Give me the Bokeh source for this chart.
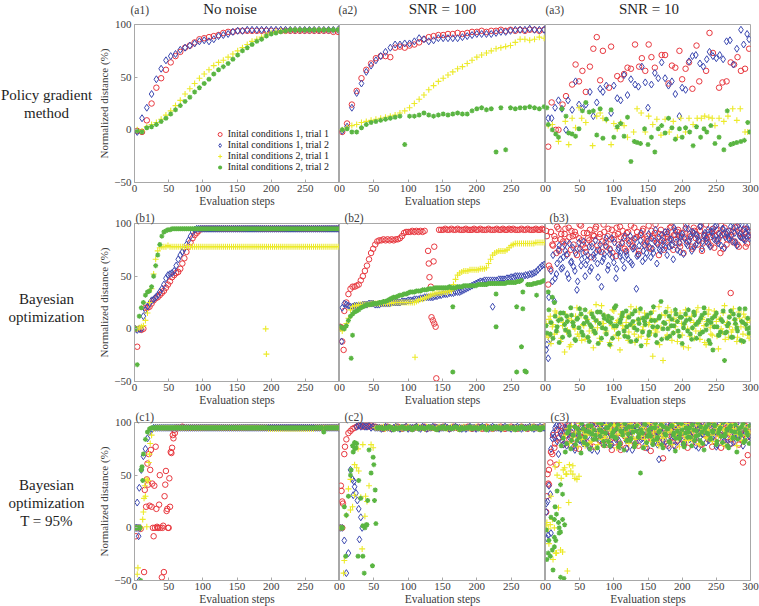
import numpy as np
from bokeh.plotting import figure
from bokeh.layouts import row, column
from bokeh.models import Range1d, FixedTicker
from bokeh.core.properties import value
from bokeh.embed import file_html
from bokeh.resources import INLINE

# ---------------- texts ----------------
legend_names = ["Inital conditions 1, trial 1", "Inital conditions 1, trial 2",
                "Inital conditions 2, trial 1", "Inital conditions 2, trial 2"]
col_titles = ["No noise", "SNR = 100", "SNR = 10"]
row_labels = [["Policy gradient", "method"],
              ["Bayesian", "optimization"],
              ["Bayesian", "optimization", "T = 95%"]]
panel_tags = [["(a1)", "(a2)", "(a3)"], ["(b1)", "(b2)", "(b3)"], ["(c1)", "(c2)", "(c3)"]]
x_ticks = [0, 50, 100, 150, 200, 250, 300]
y_ticks = [-50, 0, 50, 100]
x_label = "Evaluation steps"
y_label = "Normalized distance (%)"

# evaluation steps at which values were read
steps_pg = list(range(4, 300, 7))    # policy gradient panels (43)
steps_bo = list(range(1, 300, 3))    # Bayesian panels (100)
steps_bo2 = list(range(2, 300, 3))   # second reading pass for the noisy SNR = 10 panels (100)

# ---------------- row a : policy gradient ----------------
a1_red = [-1, -2, 9, 25, 40, 49, 57, 64, 70, 74, 78, 80, 83, 86, 87, 88, 89, 90, 92, 93,
          93, 94, 94, 94, 94, 94, 94, 94, 94, 94, 94, 94, 94, 94, 94, 94, 94, 94, 94, 94,
          94, 93, 93]
a1_blue = [-2, 11, 21, 34, 48, 58, 66, 70, 72, 76, 78, 80, 82, 84, 85, 84, 86, 89, 90, 91,
           93, 94, 94, 95, 95, 95, 95, 95, 95, 95, 95, 95, 95, 95, 95, 95, 95, 95, 95, 95,
           95, 95, 95]
a1_yellow = [0, -1, 3, 5, 7, 10, 14, 18, 23, 28, 34, 39, 44, 49, 53, 57, 61, 64, 66, 69,
             72, 75, 78, 81, 84, 86, 88, 90, 92, 93, 94, 94, 95, 95, 95, 95, 95, 95, 95, 95,
             95, 95, 95]
a1_green = [-1, -2, 2, 3, 5, 8, 11, 15, 19, 23, 27, 31, 36, 40, 44, 48, 53, 57, 60, 63,
            67, 71, 75, 78, 81, 84, 86, 89, 91, 92, 93, 94, 95, 95, 95, 95, 95, 95, 95, 95,
            95, 95, 95]

a2_red = [-2, 6, 24, 37, 49, 57, 63, 68, 70, 70, 69, 78, 79, 78, 80, 81, 83, 86, 88, 89,
          90, 90, 91, 91, 92, 91, 92, 93, 93, 94, 93, 94, 94, 95, 94, 95, 94, 95, 94, 95,
          95, 94, 95]
a2_blue = [-1, 3, 21, 35, 44, 55, 61, 66, 70, 74, 78, 81, 81, 82, 82, 84, 87, 86, 84, 85,
           87, 87, 87, 87, 87, 88, 89, 90, 91, 91, 91, 91, 92, 93, 93, 94, 95, 95, 95, 96,
           95, 95, 95]
a2_yellow = [0, 2, 4, 5, 7, 8, 9, 10, 11, 12, 13, 14, 16, 18, 21, 25, 29, 33, 38, 42,
             46, 49, 52, 55, 58, 60, 63, 66, 69, 71, 73, 75, 77, 78, 79, 80, 83, 86, 86, 85,
             86, 88, 87]
a2_green = [0, 1, -2, -2, 2, 5, 7, 8, 9, 10, 11, 12, 13, -14, 13, 13, 14, 16, 14, 13,
            14, 15, 14, 15, 16, 15, 15, 18, 20, 21, 19, 20, -21, 21, -19, 21, 20, 21, 21, 22,
            21, 20, 22]

a3_red_x = [4, 9, 15, 19, 25, 30, 39, 44, 49, 54, 59, 65, 70, 75, 80, 84, 93, 96, 105, 110,
            115, 120, 125, 131, 137, 141, 146, 151, 155, 160, 170, 175, 180, 185, 190, 196, 200, 205, 210, 215,
            221, 225, 235, 240, 245, 254, 259, 265, 271, 276, 281, 286, 292, 298]
a3_red_y = [-16, 26, 0, 0, 24, 32, 43, 62, 46, 56, 36, 60, 77, 88, 47, 75, 40, 79, 51, 48,
            53, 59, 58, 81, 60, 68, 56, 81, 69, 59, 71, 71, 44, 61, 59, 75, 48, 58, 64, 39,
            80, 46, 56, 92, 73, 40, 45, 46, 64, 62, 69, 56, 58, 77]
a3_blue_x = [4, 9, 14, 19, 24, 30, 33, 39, 44, 49, 54, 59, 65, 70, 75, 80, 84, 89, 96, 100,
             105, 110, 115, 120, 125, 131, 136, 141, 146, 150, 155, 160, 165, 170, 175, 180, 185, 190, 196, 200,
             205, 210, 215, 220, 226, 231, 236, 240, 245, 250, 255, 260, 265, 270, 275, 280, 286, 290, 295, 298]
a3_blue_y = [11, 11, 21, 28, 20, 0, 28, 19, 46, 24, 20, 24, 36, 13, 26, 39, 36, 42, 16, 42,
             30, 28, 52, 33, 48, 43, 41, 60, 45, 21, 43, 54, 49, 64, 49, 42, 46, 34, 13, 40,
             38, 65, 70, 71, 63, 60, 67, 74, 70, 68, 71, 67, 84, 85, 62, 77, 95, 81, 91, 86]
a3_yellow_x = [4, 10, 19, 29, 34, 39, 44, 49, 53, 59, 69, 75, 80, 84, 89, 96, 100, 105, 110, 115,
               120, 129, 134, 140, 146, 151, 157, 163, 169, 175, 181, 187, 193, 198, 205, 210, 216, 222, 228, 233,
               239, 244, 248, 254, 261, 267, 274, 280, 285, 292, 296]
a3_yellow_y = [4, 5, -11, 8, -14, 11, 2, 21, 11, 7, -15, 13, 16, 11, 9, -14, 6, 1, 7, 4,
               -7, -2, 20, 16, -2, 13, 5, 10, -5, 10, -2, 8, -7, 11, -2, 11, 5, 11, 11, 13,
               12, 11, 4, 11, 8, 13, 20, 9, 20, -2, -2]
a3_green_x = [2, 4, 10, 15, 19, 24, 30, 34, 39, 44, 49, 54, 59, 64, 70, 75, 80, 84, 89, 96,
              100, 105, 110, 115, 120, 125, 130, 134, 139, 145, 150, 155, 160, 165, 170, 175, 180, 185, 190, 196,
              200, 205, 211, 216, 221, 227, 232, 236, 242, 248, 254, 261, 266, 271, 275, 280, 286, 291, 296, 299]
a3_green_y = [21, 5, 0, -4, -7, 20, 13, -3, -4, -6, 1, 18, 26, 17, 18, -5, 20, -8, 10, 19,
              -7, 3, 6, -6, 12, -30, -11, -12, -13, 1, -14, -7, -21, 1, 4, -3, 11, 2, -9, 1,
              -7, 2, -2, -15, 3, -7, 1, -2, 4, -13, -7, -19, 18, -14, -13, -12, -11, -10, 7, -2]

# ---------------- row b : Bayesian optimization ----------------
b1_red = [0, -17, 0, -1, 0, 20, 20, 21, 24, 27, 29, 30, 32, 34, 36, 39, 42, 45, 49, 51,
          53, 54, 57, 62, 67, 73, 78, 82, 86, 89, 91, 93, 95, 95, 95, 95, 95, 95, 95, 95,
          95, 95, 95, 95, 95, 95, 95, 95, 95, 95, 95, 95, 95, 95, 95, 95, 95, 95, 95, 95,
          95, 95, 95, 95, 95, 95, 95, 95, 95, 95, 95, 95, 95, 95, 95, 95, 95, 95, 95, 95,
          95, 95, 95, 95, 95, 95, 95, 95, 95, 95, 95, 95, 95, 95, 95, 95, 95, 95, 95, 95]
b1_blue = [0, -1, 0, 0, 12, 18, 21, 24, 27, 28, 30, 32, 35, 38, 42, 48, 51, 52, 53, 55,
           60, 66, 70, 73, 76, 80, 84, 88, 92, 94, 95, 95, 95, 95, 95, 95, 95, 95, 95, 95,
           95, 95, 95, 95, 95, 95, 95, 95, 95, 95, 95, 95, 95, 95, 95, 95, 95, 95, 95, 95,
           95, 95, 95, 95, 95, 95, 95, 95, 95, 95, 95, 95, 95, 95, 95, 95, 95, 95, 95, 95,
           95, 95, 95, 95, 95, 95, 95, 95, 95, 95, 95, 95, 95, 95, 95, 95, 95, 95, 95, 95]
b1_yellow = [0, 0, 1, 2, 3, 8, 15, 25, 38, 52, 66, 74, 77, 78, 78, 78, 79, 78, 78, 78,
             78, 78, 78, 78, 78, 78, 78, 78, 78, 78, 78, 78, 78, 78, 78, 78, 78, 78, 78, 78,
             78, 78, 78, 78, 78, 78, 78, 78, 78, 78, 78, 78, 78, 78, 78, 78, 78, 78, 78, 78,
             78, 78, 78, 78, 78, 78, 78, 78, 78, 78, 78, 78, 78, 78, 78, 78, 78, 78, 78, 78,
             78, 78, 78, 78, 78, 78, 78, 78, 78, 78, 78, 78, 78, 78, 78, 78, 78, 78, 78, 78]
b1_yellow_ex_x = [192, 193]
b1_yellow_ex_y = [0, -24]
b1_green = [0, -34, 12, 20, 25, 32, 35, 36, 40, 50, 60, 70, 80, 88, 92, 93, 94, 94, 95, 95,
            95, 95, 95, 95, 95, 95, 95, 95, 95, 95, 95, 95, 95, 95, 95, 95, 95, 95, 95, 95,
            95, 95, 95, 95, 95, 95, 95, 95, 95, 95, 95, 95, 95, 95, 95, 95, 95, 95, 95, 95,
            95, 95, 95, 95, 95, 95, 95, 95, 95, 95, 95, 95, 95, 95, 95, 95, 95, 95, 95, 95,
            95, 95, 95, 95, 95, 95, 95, 95, 95, 95, 95, 95, 95, 95, 95, 95, 95, 95, 95, 95]

b2_red = [2, 1, 17, 25, 33, 38, 40, 40, 41, 42, 46, 50, 55, 60, 66, 72, 76, 80, 83, 84,
          84, 85, 84, 85, 84, 85, 84, 85, 85, 86, 88, 91, 92, 92, 92, 93, 92, 93, 92, 93,
          92, 93, None, None, None, None, None, None, 94, 94, 94, 95, 94, 94, 95, 94, 94, 95, 94, 94,
          94, 95, 94, 94, 94, 95, 94, 94, 95, 94, 94, 94, 95, 94, 94, 94, 95, 94, 94, 95,
          94, 94, 95, 94, 95, 94, 94, 94, 95, 94, 94, 95, 94, 94, 94, 95, 94, 94, 95, 94]
b2_red_ex_x = [4, 6, 129, 130, 131, 133, 134, 136, 138, 140, 138, 137, 141]
b2_red_ex_y = [-12, -20, 74, 62, 49, 40, 11, 8, 5, 2, 78, 64, -47]
b2_blue = [1, 20, 24, 23, 22, 21, 21, 22, 22, 22, 22, 23, 23, 23, 24, 24, 24, 23, 23, 23,
           24, 24, 24, 24, 24, 25, 25, 25, 25, 25, 26, 26, 26, 27, 27, 27, 28, 28, 28, 29,
           29, 30, 30, 30, 30, 30, 31, 31, 32, 32, 33, 33, 33, 34, 34, 34, 35, 35, 35, 36,
           37, 38, 39, 40, 41, 42, 43, 44, 45, 45, 46, 46, 46, 46, 46, 46, 46, 47, 47, 47,
           47, 48, 48, 49, 49, 50, 50, 50, 50, 50, 51, 51, 52, 52, 53, 54, 56, 58, 60, 61]
b2_blue_ex_x = [3, 223]
b2_blue_ex_y = [-12, 21]
b2_yellow = [0, -2, 1, 5, 10, 18, 21, 22, 22, 23, 23, 23, 23, 23, 23, 24, 24, 24, 24, 24,
             24, 24, 24, 24, 24, 24, 25, 25, 25, 25, 25, 25, 25, 25, 25, 25, 25, 26, 27, 28,
             28, 29, 30, 31, 32, 33, 33, 34, 34, 34, 35, 35, 35, 36, 36, 42, 47, 51, 53, 54,
             55, 55, 55, 56, 56, 56, 56, 56, 57, 57, 57, 58, 62, 66, 70, 72, 73, 74, 74, 74,
             74, 75, 77, 79, 80, 81, 81, 81, 81, 81, 81, 81, 81, 81, 81, 82, 82, 82, 82, 82]
b2_yellow_ex_x = [110]
b2_yellow_ex_y = [-27]
b2_green = [2, 1, 0, 3, 8, 12, 14, 16, 17, 18, 20, 21, 22, 23, 23, 23, 24, 24, 24, 25,
            25, 26, 26, 27, 28, 29, 30, 30, 31, 32, 32, 33, 33, 34, 35, 35, 35, 36, 36, 36,
            37, 37, 37, 38, 38, 38, 39, 39, 39, 39, 39, 39, 39, 40, 39, 39, 39, 40, 40, 40,
            41, 41, 41, 41, 41, 41, 41, 42, 42, 42, 42, 42, 43, 43, 43, 43, 43, 43, 43, 43,
            43, 44, 44, 44, 44, 44, 45, 45, 46, None, None, 42, 42, 42, 43, 43, 44, 44, 45, 46]
b2_green_ex_x = [17, 19, 165, 165, 228, 228, 258, 258, 267, 267, 270, 272, 287, 265]
b2_green_ex_y = [-28, -6, 21, -41, 33, 2, 21, -41, 35, 19, -40, -41, 32, -17]

b3_red = [93, 42, 57, 80, 88, 72, 95, 85, 78, 90, 83, 96, 75, 88, 92, 70, 86, 98, 80, 77,
          91, 84, 68, 89, 95, 79, 87, 73, 99, 82, 88, 76, 94, 85, 69, 90, 97, 81, 86, 74,
          92, 83, 78, 96, 87, 71, 89, 93, 80, 85, 98, 76, 88, 91, 82, 70, 94, 86, 79, 90,
          84, 97, 75, 89, 92, 81, 87, 72, 95, 83, 90, 78, 96, 86, 80, 93, 74, 88, 99, 82,
          87, 91, 77, 94, 85, 72, 89, 96, 80, 88, 34, 92, 83, 97, 78, 90, 86, 95, 81, 89]
b3_red2 = [88, 60, 92, 79, 85, 97, 74, 90, 83, 95, 71, 87, 93, 80, 89, 76, 99, 84, 91, 73,
           86, 94, 81, 88, 97, 75, 90, 83, 92, 78, 95, 85, 72, 89, 96, 80, 87, 93, 76, 91,
           84, 98, 79, 86, 92, 74, 89, 95, 82, 88, 77, 93, 86, 99, 81, 90, 84, 75, 92, 87,
           96, 80, 89, 85, 94, 78, 91, 87, 99, 83, 88, 76, 93, 90, 84, 97, 81, 89, 86, 92,
           79, 95, 88, 83, 91, 98, 76, 90, 85, 93, 89, 82, 96, 80, 91, 87, 94, 78, 88, 92]
b3_blue = [-20, -28, -10, 45, 26, 52, 75, 66, 58, 80, 70, 48, 63, 77, 55, 37, 82, 60, 72, 50,
           65, 78, 58, 70, 84, 62, 74, 40, 67, 79, 56, 71, 86, 63, 48, 75, 69, 82, 58, 73,
           66, 88, 61, 77, 38, 70, 84, 64, 79, 72, 90, 68, 76, 83, 62, 87, 74, 80, 92, 70,
           78, 85, 66, 93, 75, 82, 88, 71, 96, 79, 84, 74, 91, 80, 87, 97, 76, 89, 83, 94,
           78, 92, 85, 98, 81, 88, 95, 77, 90, 86, 97, 83, 91, 79, 99, 87, 93, 84, 96, 88]
b3_blue2 = [-15, 30, 55, 70, 48, 62, 79, 57, 68, 74, 52, 81, 64, 59, 72, 45, 76, 66, 83, 61,
            70, 55, 78, 67, 73, 49, 80, 64, 71, 86, 60, 75, 68, 82, 57, 77, 72, 65, 88, 70,
            81, 63, 76, 85, 69, 79, 91, 74, 67, 83, 78, 86, 72, 94, 80, 75, 89, 83, 77, 92,
            85, 79, 96, 82, 88, 73, 90, 86, 81, 95, 87, 92, 78, 89, 84, 98, 83, 91, 86, 80,
            93, 88, 97, 84, 90, 79, 95, 87, 92, 85, 89, 96, 82, 93, 88, 99, 85, 91, 94, 86]
b3_yellow = [5, -8, 12, 2, -5, 15, 8, -12, 3, -22, -3, 10, -15, 6, 0, 20, -7, 13, 4, -10,
             9, -2, 16, -18, 7, 1, -9, 22, 5, -4, 11, -13, 3, 17, -6, 8, -20, 12, 0, 6,
             -11, 14, 2, -5, 19, -8, 9, -1, 15, -14, 4, 10, -26, 7, -3, 21, 1, -30, 13, -6,
             8, 16, -4, 2, -12, 11, 5, -17, 18, 0, -7, 12, 6, -2, 20, -10, 9, 3, -15, 14,
             1, -6, 17, 7, -19, 10, -3, 22, 4, -8, 13, -1, 8, -12, 16, 2, -5, 11, 6, -9]
b3_yellow2 = [-6, 9, -14, 4, 17, -3, 11, -9, 6, 14, -1, -17, 8, 2, 12, -5, 19, -11, 3, 10,
              -8, 15, 1, -4, 23, 7, -12, 5, 13, -2, 9, -16, 18, 0, 6, -9, 14, 3, -6, 11,
              -3, 21, 4, -13, 8, 16, -7, 2, 12, -10, 6, -4, 17, -1, 9, -15, 13, 5, -8, 20,
              2, -11, 10, 7, -3, 15, -6, 4, 12, -18, 8, 1, -9, 16, 5, -2, 11, -13, 7, 18,
              -5, 3, 13, -7, 9, 0, 15, -10, 6, 2, -3, 19, 4, -8, 10, -12, 14, 1, -6, 8]
b3_green = [3, 35, -5, 30, 25, -2, 8, 15, -8, 4, 12, -3, 20, 6, -10, 9, 1, 14, -6, 18,
            7, -12, 2, 11, -4, 16, 5, -9, 13, 0, 8, -15, 10, 3, 22, -5, 6, 12, -2, 17,
            -8, 4, 14, 1, -11, 9, 19, -3, 7, 11, -6, 15, 2, 8, -13, 10, 26, 0, 5, -9,
            12, 3, -4, 18, 7, -7, 11, 1, 14, -2, 9, -10, 16, 4, 6, -5, 13, 20, -1, 8,
            -14, 10, 2, 15, -6, -3, 7, -30, -3, 5, 17, -8, 9, 1, 13, -11, 6, 19, 0, -4]
b3_green2 = [-4, 18, 6, -9, 12, 2, -13, 9, 15, -1, 7, -6, 13, 3, -11, 10, 19, -3, 5, 11,
             -8, 4, 14, -2, 8, -14, 16, 1, 10, -5, 12, 6, -9, 20, 3, -4, 9, 15, -7, 2,
             11, -12, 7, 17, -1, 5, -16, 10, 4, 13, -3, 8, 21, -6, 2, 12, -10, 6, 16, 0,
             -7, 9, 3, 14, -2, 11, -14, 5, 8, 18, -5, 1, 13, -9, 7, 10, -3, 15, 4, -11,
             6, -20, 12, 2, -6, 9, 17, -4, 3, 11, -8, 14, 5, -2, 19, 7, -12, 4, 10, 1]

# ---------------- row c : Bayesian optimization, T = 95% ----------------
c1_red = [None, None, None, None, None, None, None, None, None, None,
          None, None, None, None, None, None, None, None, None, 93,
          95, 95, 95, 96, 95, 95, 95, 95, 95, 95, 95, 95, 95, 95, 95, 95, 95, 95, 95, 95,
          95, 95, 95, 95, 95, 95, 95, 95, 95, 95, 95, 95, 95, 95, 95, 95, 95, 95, 95, 95,
          95, 95, 95, 95, 95, 95, 95, 95, 95, 95, 95, 95, 95, 95, 95, 95, 95, 95, 95, 95,
          95, 95, 95, 95, 95, 95, 95, 95, 95, 95, 95, 95, 95, 95, 95, 95, 95, 95, 95, 95]
c1_red_ex_x = [2, 6, 9, 14, 15, 17, 18, 19, 20, 21, 22, 23, 24, 25, 26, 27, 28, 29, 30, 31,
               32, 33, 34, 35, 36, 37, 38, 40, 41, 42, 43, 44, 45, 46, 47, 48, 49, 50, 51, 52,
               53, 54, 55, 56, 57, 59]
c1_red_ex_y = [-8, 0, -1, -42, 36, 20, 46, 61, 41, 70, 21, 55, 74, 20, 42, 0, -8, 40, 0, 77,
               18, 1, 0, 0, 22, 50, 0, -47, 0, 2, -42, 30, 41, 54, 16, 18, 0, 0, 47, 20,
               72, 71, 76, 88, 85, 90]
c1_blue = [0, 24, 38, 55, 68, 75, 85, 91, 93, 95, 95, 95, 95, 95, 95, 95, 95, 95, 95, 95,
           95, 95, 95, 95, 95, 95, 95, 95, 95, 95, 95, 95, 95, 95, 95, 95, 95, 95, 95, 95,
           95, 95, 95, 95, 95, 95, 95, 95, 95, 95, 95, 95, 95, 95, 95, 95, 95, 95, 95, 95,
           95, 95, 95, 95, 95, 95, 95, 95, 95, 95, 95, 95, 95, 95, 95, 95, 95, 95, 95, 95,
           95, 95, 95, 95, 95, 95, 95, 95, 95, 95, 95, 95, 95, 95, 95, 95, 95, 95, 95, 95]
c1_blue_ex_x = [3, 5, 6, 7, 8]
c1_blue_ex_y = [0, 0, -8, -50, 0]
c1_yellow = [0, 0, 0, 0, 15, 30, 45, 70, 88, 94, 95, 95, 95, 95, 95, 95, 95, 95, 95, 95,
             95, 95, 95, 95, 95, 95, 95, 95, 95, 95, 95, 95, 95, 95, 95, 95, 95, 95, 95, 95,
             95, 95, 95, 95, 95, 95, 95, 95, 95, 95, 95, 95, 95, 95, 95, 95, 95, 95, 95, 95,
             95, 95, 95, 95, 95, 94, 94, 94, 94, 94, 94, 94, 94, 94, 94, 94, 94, 94, 94, 94,
             94, 94, 94, 94, 94, 94, 94, 94, 95, 95, 95, 95, 95, 95, 95, 95, 95, 95, 95, 95]
c1_yellow_ex_x = [5, 4, 14, 15, 17, 20, 21, 12, 18, 23]
c1_yellow_ex_y = [-38, -44, 28, 40, 46, 45, 62, 8, 1, 80]
c1_green = [0, 0, 0, 55, 70, 84, 91, 94, 95, 95, 95, 95, 95, 95, 95, 95, 95, 95, 95, 95,
            95, 95, 95, 95, 95, 95, 95, 95, 95, 95, 95, 95, 95, 95, 95, 95, 95, 95, 95, 95,
            95, 95, 95, 95, 95, 95, 95, 95, 95, 95, 95, 95, 95, 95, 95, 95, 95, 95, 95, 95,
            95, 95, 95, 95, 95, 95, 95, 95, 95, 95, 95, 95, 95, 95, 95, 95, 95, 95, 95, 95,
            95, 95, 95, 95, 95, 95, 95, 95, 95, 95, 95, 95, 91, 95, 95, 95, 95, 95, 95, 95]
c1_green_ex_x = [9, 8, 11, 12]
c1_green_ex_y = [-50, 0, 58, 45]

c2_red = [0, 25, 70, 84, 90, 92, 94, 95, 96, 97, 97, 96, 97, 97, 96, 97, 96, 96, 95, 95,
          95, 94, 95, 96, 95, 94, 95, 95, 96, 95, 94, 95, 96, 95, 95, 94, 95, 96, 95, 95,
          95, 96, 94, 95, 95, 95, 96, 94, 95, 95, 96, 95, 95, 94, 95, 96, 95, 95, 94, 95,
          95, 95, 96, 95, 94, 95, 95, 96, 95, 94, 95, 96, 95, 95, 94, 95, 95, 95, 96, 95,
          94, 95, 95, 96, 95, 95, 94, 95, 96, 95, 95, 94, 95, 95, 96, 95, 95, 94, 95, 96]
c2_red_ex_x = [2, 3, 5, 4, 8]
c2_red_ex_y = [40, 35, 23, 0, 77]
c2_blue = [0, 0, -12, -43, -24, 55, 46, 39, 96, 97, 96, 97, 96, 96, 97, 95, 96, 95, 95, 95,
           94, 95, 96, 95, 95, 94, 95, 96, 95, 94, 95, 95, 96, 94, 95, 95, 95, 96, 95, 94,
           96, 95, 94, 95, 95, 96, 95, 95, 94, 95, 95, 96, 95, 94, 95, 95, 96, 95, 95, 94,
           95, 94, 95, 96, 95, 95, 94, 95, 95, 96, 95, 95, 94, 95, 96, 95, 95, 95, 94, 95,
           96, 95, 95, 94, 95, 95, 96, 95, 94, 95, 95, 95, 96, 95, 94, 95, 95, 96, 95, 95]
c2_blue_ex_x = [21, 24, 26, 28, 31, 29, 33, 20]
c2_blue_ex_y = [44, 33, 26, 18, 10, -11, 0, 31]
c2_yellow = [0, 0, -31, 12, 37, 46, 20, 31, 57, 54, 29, 79, 11, 25, 40, 79, 76, 95, 95, 95,
             95, 96, 94, 95, 95, 95, 94, 96, 95, 95, 94, 95, 95, 96, 95, 94, 95, 95, 96, 95,
             95, 94, 96, 95, 95, 95, 94, 95, 96, 95, 95, 95, 94, 95, 96, 95, 95, 94, 95, 95,
             96, 95, 95, 94, 95, 95, 96, 95, 94, 95, 95, 96, 95, 95, 94, 95, 95, 96, 95, 94,
             95, 95, 96, 95, 94, 95, 95, 95, 96, 95, 94, 95, 95, 96, 95, 95, 94, 95, 95, 96]
c2_yellow_ex_x = [6, 16, 22, 27, 33, 38]
c2_yellow_ex_y = [-43, 17, 60, 75, -20, 30]
c2_green = [0, 0, 20, 12, 30, 50, 78, 75, 80, 45, 28, 2, 0, 3, 74, 52, 67, 36, 95, 95,
            95, 94, 95, 95, 96, 95, 93, 95, 94, 95, 96, 95, 94, 95, 95, 93, 95, 96, 94, 95,
            95, 94, 95, 96, 95, 95, 94, 93, 95, 95, 96, 94, 95, 95, 94, 95, 96, 95, 93, 95,
            94, 95, 95, 96, 94, 95, 95, 94, 95, 96, 95, 93, 95, 95, 94, 96, 95, 95, 94, 95,
            95, 96, 94, 95, 95, 93, 95, 94, 96, 95, 94, 95, 95, 94, 96, 95, 95, 93, 95, 95]
c2_green_ex_x = [4, 9, 20, 24, 22, 27, 34, 36, 39, 41, 48, 51, 53, 50, 17]
c2_green_ex_y = [0, -27, 72, 76, 81, -27, -27, -43, 3, 26, -36, 26, 4, 60, 55]

c3_red = [15, 42, 62, 70, 76, 60, 85, 92, 95, 80, 88, 97, 78, 93, 84, 99, 75, 90, 86, 95,
          81, 92, 98, 77, 89, 94, 83, 100, 79, 91, 87, 96, 74, 93, 85, 98, 80, 90, 95, 76,
          92, 86, 99, 82, 94, 78, 97, 88, 91, 84, 96, 73, 89, 93, 81, 99, 87, 66, 94, 80,
          91, 97, 85, 78, 95, 88, 100, 83, 92, 76, 98, 86, 90, 81, 94, 97, 79, 89, 93, 84,
          99, 77, 91, 96, 85, 88, 95, 80, 93, 90, 84, 98, 87, 94, 79, 92, 62, 97, 86, 91]
c3_red2 = [30, 55, 72, 88, 80, 93, 86, 97, 79, 91, 95, 84, 90, 99, 76, 92, 87, 96, 82, 89,
           94, 78, 98, 85, 91, 100, 83, 88, 95, 79, 92, 97, 86, 81, 99, 90, 74, 94, 87, 96,
           83, 91, 98, 79, 93, 86, 100, 88, 76, 95, 90, 84, 97, 89, 92, 81, 96, 87, 99, 78,
           93, 86, 91, 97, 83, 89, 95, 80, 98, 92, 87, 100, 84, 90, 96, 79, 93, 88, 99, 85,
           91, 97, 82, 94, 89, 76, 98, 92, 86, 95, 80, 93, 99, 87, 91, 84, 97, 89, 69, 94]
c3_red_ex_x = [3, 5]
c3_red_ex_y = [51, 41]
c3_blue = [23, -7, 32, 85, 86, 97, 70, 90, 82, 95, 78, 93, 87, 99, 74, 91, 84, 96, 80, 89,
           92, 76, 98, 85, 90, 73, 94, 88, 97, 81, 86, 99, 79, 92, 84, 95, 77, 90, 98, 83,
           93, 87, 74, 96, 81, 91, 99, 85, 78, 94, 88, 97, 80, 92, 86, 65, 95, 83, 90, 99,
           76, 93, 87, 98, 82, 91, 95, 79, 88, 97, 84, 92, 99, 78, 94, 86, 90, 96, 81, 93,
           98, 85, 91, 77, 95, 88, 100, 83, 92, 97, 80, 94, 89, 99, 86, 93, 78, 96, 90, 87]
c3_blue2 = [-10, 40, 75, 90, 95, 82, 97, 88, 79, 93, 99, 86, 91, 77, 95, 89, 83, 98, 92, 80,
            87, 96, 74, 90, 99, 85, 93, 81, 97, 88, 94, 78, 91, 100, 86, 83, 96, 89, 92, 75,
            98, 87, 93, 80, 95, 90, 84, 99, 88, 76, 92, 97, 85, 91, 79, 96, 89, 94, 82, 100,
            87, 93, 78, 98, 90, 85, 95, 81, 97, 91, 88, 99, 84, 93, 76, 96, 89, 92, 100, 83,
            95, 87, 91, 79, 98, 90, 86, 97, 84, 93, 99, 81, 94, 88, 92, 85, 97, 90, 83, 96]
c3_blue_ex_x = [1, 8, 3]
c3_blue_ex_y = [15, -5, 25]
c3_yellow = [2, -1, 3, 8, 0, -24, 19, -21, -23, 57, 51, 24, 54, 59, 47, 46, 49, 85, 92, 78,
             88, 97, 82, 93, 76, 90, 99, 84, 91, 87, 95, 80, 93, 98, 85, 89, 77, 96, 90, 83,
             94, 99, 86, 91, 79, 97, 88, 93, 84, 100, 90, 82, 96, 87, 93, 78, 98, 85, 91, 95,
             81, 92, 99, 86, 94, 77, 90, 97, 83, 89, 96, 84, 93, 88, 100, 79, 91, 95, 86, 92,
             98, 82, 90, 94, 87, 97, 80, 93, 89, 96, 85, 99, 91, 78, 94, 88, 96, 83, 92, 90]
c3_yellow2 = [5, -15, 30, -30, 58, 50, 62, 47, 55, 88, 94, 80, 97, 86, 91, 77, 99, 84, 92, 89,
              96, 81, 93, 87, 100, 79, 95, 90, 85, 98, 83, 92, 88, 97, 76, 94, 89, 99, 86, 91,
              80, 96, 93, 84, 98, 90, 87, 95, 78, 92, 99, 85, 91, 97, 82, 94, 88, 100, 86, 90,
              93, 79, 97, 89, 84, 96, 91, 87, 99, 83, 95, 92, 86, 98, 80, 94, 90, 97, 85, 93,
              88, 100, 82, 91, 96, 87, 93, 78, 99, 90, 85, 94, 97, 89, 92, 83, 98, 88, 95, 91]
c3_yellow_ex_x = [30, 32, 35, 40, 15]
c3_yellow_ex_y = [51, -41, 60, 51, -24]
c3_green = [-2, -24, -27, -21, 8, 13, 5, 41, 32, 3, 80, 92, 75, 88, 96, 83, 90, 71, 94, 86,
            79, 91, 97, 84, 88, 76, 93, 99, 82, 90, 95, 78, 87, 92, 85, 98, 80, 91, 74, 94,
            89, 83, 96, 77, 92, 86, 52, 90, 99, 81, 93, 87, 79, 95, 84, 91, 98, 76, 89, 94,
            82, 97, 88, 73, 92, 85, 99, 80, 90, 86, 95, 78, 93, 87, 100, 83, 91, 74, 96, 89,
            84, 92, 98, 79, 90, 95, 81, 87, 93, 76, 97, 85, 91, 72, 94, 88, 99, 83, 90, 80]
c3_green2 = [-30, -12, 10, -40, 20, 35, -5, 78, 85, 72, 90, 96, 83, 88, 79, 94, 86, 99, 81, 92,
             97, 75, 89, 93, 84, 100, 87, 91, 78, 95, 82, 98, 90, 86, 94, 77, 92, 88, 99, 83,
             96, 85, 91, 80, 97, 89, 93, 76, 98, 87, 90, 95, 83, 99, 86, 92, 79, 96, 88, 94,
             81, 97, 90, 85, 100, 89, 93, 77, 95, 91, 86, 98, 83, 92, 88, 96, 80, 94, 90, 99,
             85, 91, 97, 82, 93, 87, 100, 89, 78, 95, 92, 86, 98, 84, 90, 96, 81, 93, 88, 97]
c3_green_ex_x = [13, 15, 20, 22, 25, 27, 13, 22]
c3_green_ex_y = [-9, -12, 0, -47, 8, -48, -18, -4]

# ---------------- assemble panels: (x, y, extra x, extra y) per series ----------------
E = []
panels = {
    (0, 0): [(steps_pg, a1_red, E, E), (steps_pg, a1_blue, E, E), (steps_pg, a1_yellow, E, E), (steps_pg, a1_green, E, E)],
    (0, 1): [(steps_pg, a2_red, E, E), (steps_pg, a2_blue, E, E), (steps_pg, a2_yellow, E, E), (steps_pg, a2_green, E, E)],
    (0, 2): [(a3_red_x, a3_red_y, E, E), (a3_blue_x, a3_blue_y, E, E), (a3_yellow_x, a3_yellow_y, E, E), (a3_green_x, a3_green_y, E, E)],
    (1, 0): [(steps_bo, b1_red, E, E), (steps_bo, b1_blue, E, E), (steps_bo, b1_yellow, b1_yellow_ex_x, b1_yellow_ex_y), (steps_bo, b1_green, E, E)],
    (1, 1): [(steps_bo, b2_red, b2_red_ex_x, b2_red_ex_y), (steps_bo, b2_blue, b2_blue_ex_x, b2_blue_ex_y),
             (steps_bo, b2_yellow, b2_yellow_ex_x, b2_yellow_ex_y), (steps_bo, b2_green, b2_green_ex_x, b2_green_ex_y)],
    (1, 2): [(steps_bo, b3_red, steps_bo2, b3_red2), (steps_bo, b3_blue, steps_bo2, b3_blue2),
             (steps_bo, b3_yellow, steps_bo2, b3_yellow2), (steps_bo, b3_green, steps_bo2, b3_green2)],
    (2, 0): [(steps_bo, c1_red, c1_red_ex_x, c1_red_ex_y), (steps_bo, c1_blue, c1_blue_ex_x, c1_blue_ex_y),
             (steps_bo, c1_yellow, c1_yellow_ex_x, c1_yellow_ex_y), (steps_bo, c1_green, c1_green_ex_x, c1_green_ex_y)],
    (2, 1): [(steps_bo, c2_red, c2_red_ex_x, c2_red_ex_y), (steps_bo, c2_blue, c2_blue_ex_x, c2_blue_ex_y),
             (steps_bo, c2_yellow, c2_yellow_ex_x, c2_yellow_ex_y), (steps_bo, c2_green, c2_green_ex_x, c2_green_ex_y)],
    (2, 2): [(steps_bo, c3_red, steps_bo2 + c3_red_ex_x, c3_red2 + c3_red_ex_y),
             (steps_bo, c3_blue, steps_bo2 + c3_blue_ex_x, c3_blue2 + c3_blue_ex_y),
             (steps_bo, c3_yellow, steps_bo2 + c3_yellow_ex_x, c3_yellow2 + c3_yellow_ex_y),
             (steps_bo, c3_green, steps_bo2 + c3_green_ex_x, c3_green2 + c3_green_ex_y)],
}

# ---------------- styles & layout constants ----------------
FONT = "Liberation Serif"
RED, BLUE, YELLOW, GREEN = "#e8383f", "#3b48b0", "#ecea2a", "#5ab542"
FRAME = "#a8a8a8"
TXT = "#3c3c3c"
DARK = "#1e1e1e"
styles = [
    dict(marker="circle", line_color=RED, fill_color=None, size=5.5, line_width=1),
    dict(marker="diamond", line_color=BLUE, fill_color=None, size=7, line_width=1),
    dict(marker="cross", line_color=YELLOW, size=6, line_width=1.1),
    dict(marker="asterisk", line_color=GREEN, size=5, line_width=1.3),
]

LABEL_W = 95            # width of the row-label column
LEFT_BORDER = 37        # room for y ticks + y label of column 1
FRAME_W = [205, 206, 205]
RIGHT_BORDER = 10
FRAME_H = [158, 158, 158]
TOP = [7, 13, 13]       # row a: room for the "100" label; rows b,c: panel-tag title
BOTTOM = 27
HEADER_H = 17
GRID_W = LEFT_BORDER + sum(FRAME_W) + RIGHT_BORDER
frame_left = [LEFT_BORDER, LEFT_BORDER + FRAME_W[0], LEFT_BORDER + FRAME_W[0] + FRAME_W[1]]
tag_dx = [[-2, 1, 2], [1, 5, 4], [1, 5, 5]]
row_h = [TOP[r] + FRAME_H[r] + BOTTOM for r in range(3)]
TOTAL_H = HEADER_H + sum(row_h)


def blank(w, h):
    s = figure(frame_width=w, frame_height=h, x_range=Range1d(0, w), y_range=Range1d(h, 0),
               output_backend="svg", toolbar_location=None, title=None,
               x_axis_location=None, y_axis_location=None,
               min_border_left=0, min_border_right=0, min_border_top=0, min_border_bottom=0,
               background_fill_color="white", border_fill_color="white")
    s.outline_line_color = None
    s.xgrid.visible = False
    s.ygrid.visible = False
    return s


def put_text(s, x, y, t, size, align, color):
    s.text(x=[x], y=[y], text=[t], text_font=value(FONT), text_font_size=value(size),
           text_color=color, text_align=align, text_baseline="middle")


def make_panel(r, c):
    p = figure(frame_width=FRAME_W[c], frame_height=FRAME_H[r],
               x_range=Range1d(0, 300), y_range=Range1d(-50, 100),
               output_backend="svg", toolbar_location=None,
               title=panel_tags[r][c] if r > 0 else None,
               y_axis_location="left" if c == 0 else None,
               min_border_left=LEFT_BORDER if c == 0 else 0,
               min_border_right=RIGHT_BORDER if c == 2 else 0,
               min_border_top=TOP[r], min_border_bottom=BOTTOM,
               background_fill_color="white", border_fill_color="white")
    if r > 0:
        p.title.align = "left"
        p.title.offset = tag_dx[r][c]
        p.title.standoff = 0
        p.title.text_font = FONT
        p.title.text_font_size = "11.5px"
        p.title.text_font_style = "normal"
        p.title.text_color = TXT
    p.outline_line_color = FRAME
    p.outline_line_width = 1
    p.xgrid.visible = False
    p.ygrid.visible = False

    xa = p.xaxis[0]
    xa.ticker = FixedTicker(ticks=x_ticks)
    if c < 2:
        xa.major_label_overrides = {300: "0"}
    xa.axis_label = x_label
    xa.axis_label_text_font = FONT
    xa.axis_label_text_font_size = "11.5px"
    xa.axis_label_text_font_style = "normal"
    xa.axis_label_text_color = TXT
    xa.axis_label_standoff = 0
    xa.major_label_text_font = FONT
    xa.major_label_text_font_size = "11px"
    xa.major_label_text_color = TXT
    xa.major_label_standoff = 2
    xa.axis_line_color = FRAME
    xa.major_tick_line_color = FRAME
    xa.major_tick_in = 3
    xa.major_tick_out = 0
    xa.minor_tick_line_color = None

    if c == 0:
        ya = p.yaxis[0]
        ya.ticker = FixedTicker(ticks=y_ticks)
        ya.axis_label = y_label
        ya.axis_label_text_font = FONT
        ya.axis_label_text_font_size = "11px"
        ya.axis_label_text_font_style = "normal"
        ya.axis_label_text_color = TXT
        ya.axis_label_standoff = 1
        ya.major_label_text_font = FONT
        ya.major_label_text_font_size = "11px"
        ya.major_label_text_color = TXT
        ya.major_label_standoff = 3
        ya.axis_line_color = FRAME
        ya.major_tick_line_color = FRAME
        ya.major_tick_in = 3
        ya.major_tick_out = 0
        ya.minor_tick_line_color = None

    for k, (xs, ys, ex, ey) in enumerate(panels[(r, c)]):
        assert len(xs) == len(ys), (r, c, k, len(xs), len(ys))
        assert len(ex) == len(ey), (r, c, k, len(ex), len(ey))
        x_all = np.array(list(xs) + list(ex), dtype=float)
        y_all = np.array([np.nan if v is None else v for v in list(ys) + list(ey)], dtype=float)
        kw = dict(styles[k])
        if (r, c) == (0, 0):
            kw["legend_label"] = legend_names[k]
        p.scatter(x=x_all, y=y_all, **kw)

    if (r, c) == (0, 0):
        lg = p.legend[0]
        lg.location = "bottom_right"
        lg.label_text_font = FONT
        lg.label_text_font_size = "10px"
        lg.label_text_color = "#222222"
        lg.glyph_width = 10
        lg.glyph_height = 10
        lg.label_height = 10
        lg.label_standoff = 3
        lg.spacing = 0
        lg.padding = 2
        lg.margin = 8
        lg.border_line_alpha = 0
        lg.background_fill_alpha = 1
    return p


# header strip above the grid: panel tags of row a and the column titles
header = blank(GRID_W, HEADER_H)
title_cx = [frame_left[0] + FRAME_W[0] / 2 - 5, frame_left[1] + FRAME_W[1] / 2 + 2, frame_left[2] + FRAME_W[2] / 2 + 3]
for c in range(3):
    put_text(header, frame_left[c] + tag_dx[0][c], 9, panel_tags[0][c], "11.5px", "left", TXT)
    put_text(header, title_cx[c], 8.5, col_titles[c], "15px", "center", DARK)

# one tall column on the left holding the row labels (pixel coordinates from the page top)
frame_top = []
y0 = HEADER_H
for r in range(3):
    frame_top.append(y0 + TOP[r])
    y0 += row_h[r]
label_shift = [0, 6.5, 3.5]
labels = blank(LABEL_W, TOTAL_H)
for r in range(3):
    centre = frame_top[r] + FRAME_H[r] / 2 + label_shift[r]
    n = len(row_labels[r])
    for i, t in enumerate(row_labels[r]):
        put_text(labels, 46, centre - (n - 1) / 2 * 18 + i * 18, t, "15px", "center", DARK)

grid_rows = [row(*[make_panel(r, c) for c in range(3)]) for r in range(3)]
layout = row(labels, column(header, *grid_rows))

open("out.html", "w").write(file_html(layout, INLINE))
